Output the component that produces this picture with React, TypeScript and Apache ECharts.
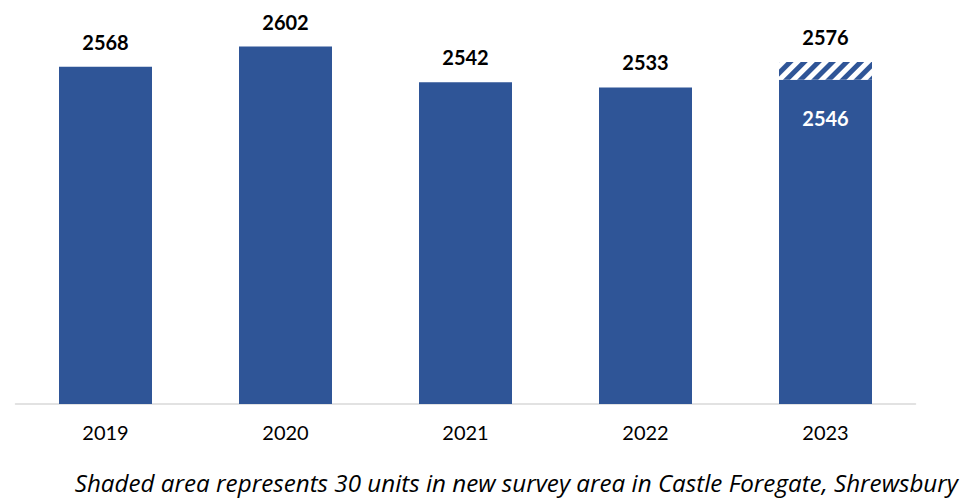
import React, { useEffect, useRef } from "react";
import * as echarts from "echarts";

const categories = ["2019", "2020", "2021", "2022", "2023"];
const baseValues = [2568, 2602, 2542, 2533, 2546];
const shadedValues = [0, 0, 0, 0, 30];
const caption = "Shaded area represents 30 units in new survey area in Castle Foregate, Shrewsbury";

const BLUE = "#2F5597";
const FONT = "Lato, 'Open Sans', sans-serif";
const CAPTION_FONT = "'Open Sans', Lato, sans-serif";

export default function App() {
  const ref = useRef<HTMLDivElement>(null);
  useEffect(() => {
    if (!ref.current) return;
    const chart = echarts.init(ref.current, null, { renderer: "svg" });
    const baseData = baseValues.map((v, i) => {
      const hasShade = shadedValues[i] > 0;
      return {
        value: v,
        label: hasShade
          ? { show: true, position: "insideTop", distance: 28, color: "#ffffff" }
          : { show: true, position: "top", distance: 15, color: "#000000" },
      };
    });
    const shadeData = shadedValues.map((v, i) => ({
      value: v,
      label: {
        show: v > 0,
        position: "top",
        distance: 15,
        color: "#000000",
        formatter: () => String(baseValues[i] + v),
      },
    }));
    chart.setOption({
      animation: false,
      grid: { left: 15.5, right: 47.5, top: 18, bottom: 94, containLabel: false },
      xAxis: {
        type: "category",
        data: categories,
        axisLine: { show: true, lineStyle: { color: "#d9d9d9", width: 1.5 } },
        axisTick: { show: false },
        axisLabel: { color: "#000000", fontFamily: FONT, fontSize: 20, margin: 18 },
      },
      yAxis: {
        type: "value",
        min: 2000,
        max: 2650,
        show: false,
        splitLine: { show: false },
      },
      series: [
        {
          type: "bar",
          stack: "total",
          barWidth: 93,
          data: baseData,
          itemStyle: { color: BLUE },
          label: { fontFamily: FONT, fontSize: 20, fontWeight: "bold" },
        },
        {
          type: "bar",
          stack: "total",
          barWidth: 93,
          data: shadeData,
          itemStyle: {
            color: "#ffffff",
            decal: {
              symbol: "rect",
              symbolSize: 1,
              color: BLUE,
              backgroundColor: "#ffffff",
              dashArrayX: [1, 0],
              dashArrayY: [5, 5],
              rotation: -Math.PI / 4,
            },
          },
          label: { fontFamily: FONT, fontSize: 20, fontWeight: "bold" },
        },
      ],
      graphic: [
        {
          type: "text",
          x: 958,
          y: 482,
          style: {
            text: caption,
            fill: "#000000",
            font: `italic 24.2px ${CAPTION_FONT}`,
            lineHeight: 24,
            textAlign: "right",
            textVerticalAlign: "middle",
          },
        },
      ],
    });
    return () => chart.dispose();
  }, []);
  return (
    <div
      ref={ref}
      style={{ position: "fixed", left: 0, top: 0, width: 963, height: 498, background: "#ffffff" }}
    />
  );
}
